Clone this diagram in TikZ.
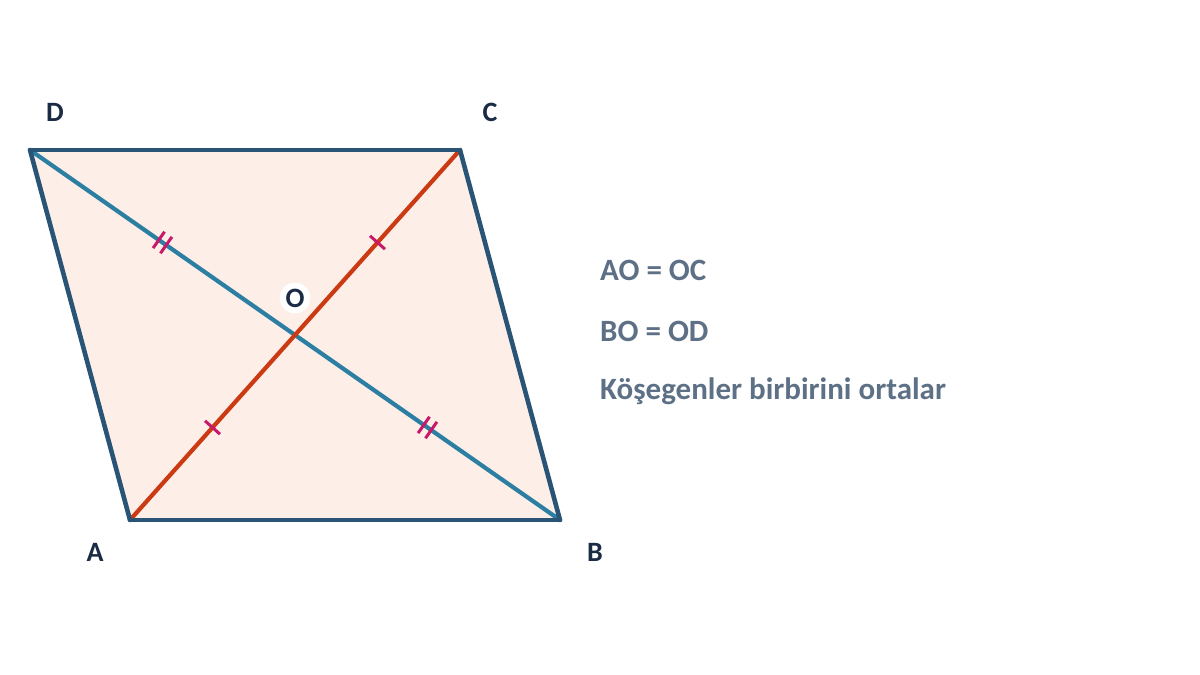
\documentclass[tikz,border=0pt]{standalone}
\usepackage{fontspec}
\setmainfont{Carlito}
\usetikzlibrary{calc}

\definecolor{fillpar}{HTML}{FDEFE7}
\definecolor{sidecol}{HTML}{2A5475}
\definecolor{diagbd}{HTML}{2C7FA2}
\definecolor{diagac}{HTML}{CC3A14}
\definecolor{tickcol}{HTML}{C8186A}
\definecolor{labcol}{HTML}{1B2B45}
\definecolor{txtcol}{HTML}{5E7085}

\tikzset{
  vlabel/.style={font=\fontsize{28}{32}\selectfont\bfseries,text=labcol,inner sep=0pt},
  side/.style={draw=sidecol,line width=4.6pt,line cap=round,line join=round},
  tickmark/.style={draw=tickcol,line width=3pt},
  infotext/.style={font=\fontsize{31}{36}\selectfont\bfseries,text=txtcol,anchor=west,inner sep=0pt}
}

\begin{document}
\begin{tikzpicture}[x=1pt,y=-1pt]
  \useasboundingbox (0,0) rectangle (1200,675);

  \coordinate (A) at (130,520);
  \coordinate (B) at (560,520);
  \coordinate (C) at (460,150);
  \coordinate (D) at (30,150);
  \coordinate (O) at ($(A)!0.5!(C)$);

  \fill[fillpar] (A) -- (B) -- (C) -- (D) -- cycle;

  % diagonals
  \draw[diagbd,line width=4.2pt] (D) -- (B);
  \draw[diagac,line width=4.2pt] (A) -- (C);

  \foreach \from/\to in {A/B,B/C,C/D,D/A}
    \draw[side] (\from) -- (\to);

  % equal halves
  \coordinate (m1) at ($(D)!0.5!(O)$);
  \coordinate (m2) at ($(O)!0.5!(C)$);
  \coordinate (m3) at ($(A)!0.5!(O)$);
  \coordinate (m4) at ($(O)!0.5!(B)$);
  \foreach \m/\t in {m2/C,m3/O}
    \draw[tickmark] ($(\m)!10pt!90:(\t)$) -- ($(\m)!10pt!-90:(\t)$);
  \foreach \m/\t in {m1/O,m4/B}
    \foreach \s in {-4.5,4.5} {
      \coordinate (mm) at ($(\m)!\s pt!(\t)$);
      \draw[tickmark] ($(mm)!10pt!90:(\t)$) -- ($(mm)!10pt!-90:(\t)$);
    }

  \node[vlabel] (lD) at (55,112) {D};
  \node[vlabel] (lC) at (490,112) {C};
  \node[vlabel] (lA) at (95,552) {A};
  \node[vlabel] (lB) at (595,552) {B};
  \node[vlabel,fill=white,circle,inner sep=1.5pt] (lO) at (295,298) {O};

  \node[infotext] (t1) at (600,270) {AO = OC};
  \node[infotext] (t2) at (600,331) {BO = OD};
  \node[infotext] (t3) at (600,391) {Köşegenler birbirini ortalar};
\end{tikzpicture}
\end{document}
